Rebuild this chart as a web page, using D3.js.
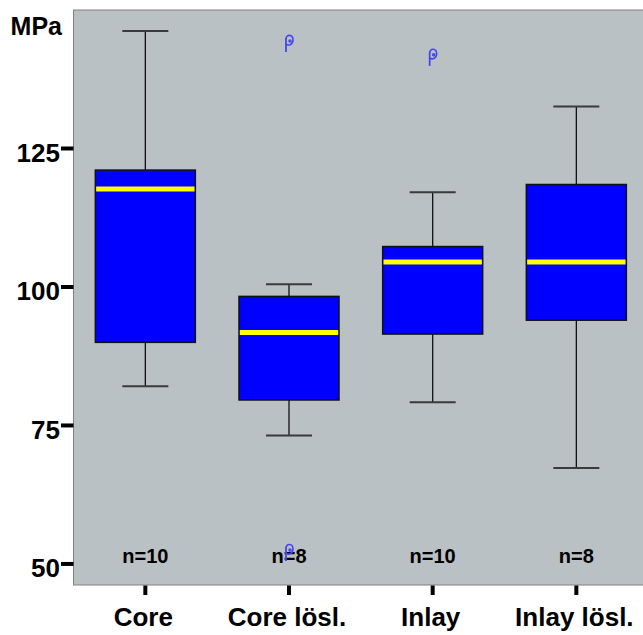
<!DOCTYPE html>
<html>
<head>
<meta charset="utf-8">
<script src="https://cdn.jsdelivr.net/npm/d3@7"></script>
<style>
  html, body { margin: 0; padding: 0; background: #ffffff; }
  svg { display: block; }
  text { font-family: "Liberation Sans", Arial, sans-serif; font-weight: bold; fill: #000; }
</style>
</head>
<body>
<svg id="chart" width="643" height="635"></svg>
<script>
// ---- data ----
const categories = ["Core", "Core lösl.", "Inlay", "Inlay lösl."];
const whiskerLow  = [82.1, 73.2, 79.2, 67.3];
const q1          = [90.0, 79.6, 91.5, 94.0];
const median      = [117.7, 91.8, 104.5, 104.5];
const q3          = [121.1, 98.3, 107.3, 118.5];
const whiskerHigh = [146.2, 100.5, 117.1, 132.6];
const counts      = ["n=10", "n=8", "n=10", "n=8"];
const outlierCat  = ["Core lösl.", "Core lösl.", "Inlay"];
const outlierVal  = [144.4, 52.5, 141.9];
const yTicks      = [50, 75, 100, 125];
const yLabel      = "MPa";

// ---- layout ----
const svg = d3.select("#chart");
const plotLeft = 73.5, plotTop = 10, plotBottom = 585;
const step = 143.67;
const x = d3.scaleBand().domain(categories).range([plotLeft, plotLeft + step * categories.length]).padding(0);
const y = d3.scaleLinear().domain([46.2, 150]).range([plotBottom, plotTop]);
const boxW = 100, capW = 46;

// plot background
svg.append("rect")
  .attr("x", plotLeft).attr("y", plotTop)
  .attr("width", 700).attr("height", plotBottom - plotTop)
  .attr("fill", "#bac1c4").attr("stroke", "#808080").attr("stroke-width", 1);

const rows = categories.map((c, i) => ({
  c, lo: whiskerLow[i], q1: q1[i], med: median[i], q3: q3[i], hi: whiskerHigh[i], n: counts[i]
}));
const cx = d => x(d.c) + x.bandwidth() / 2;

const g = svg.append("g");
// whiskers
g.selectAll(".wl").data(rows).join("line")
  .attr("x1", cx).attr("x2", cx)
  .attr("y1", d => y(d.q3)).attr("y2", d => y(d.hi))
  .attr("stroke", "#111").attr("stroke-width", 1.3);
g.selectAll(".wl2").data(rows).join("line")
  .attr("x1", cx).attr("x2", cx)
  .attr("y1", d => y(d.q1)).attr("y2", d => y(d.lo))
  .attr("stroke", "#111").attr("stroke-width", 1.3);
// caps
g.selectAll(".capH").data(rows).join("line")
  .attr("x1", d => cx(d) - capW / 2).attr("x2", d => cx(d) + capW / 2)
  .attr("y1", d => y(d.hi)).attr("y2", d => y(d.hi))
  .attr("stroke", "#3a3a3a").attr("stroke-width", 2);
g.selectAll(".capL").data(rows).join("line")
  .attr("x1", d => cx(d) - capW / 2).attr("x2", d => cx(d) + capW / 2)
  .attr("y1", d => y(d.lo)).attr("y2", d => y(d.lo))
  .attr("stroke", "#3a3a3a").attr("stroke-width", 2);
// boxes
g.selectAll(".box").data(rows).join("rect")
  .attr("x", d => cx(d) - boxW / 2).attr("width", boxW)
  .attr("y", d => y(d.q3)).attr("height", d => y(d.q1) - y(d.q3))
  .attr("fill", "#0000ff").attr("stroke", "#111").attr("stroke-width", 1.5);
// medians
g.selectAll(".med").data(rows).join("line")
  .attr("x1", d => cx(d) - boxW / 2 + 0.8).attr("x2", d => cx(d) + boxW / 2 - 0.8)
  .attr("y1", d => y(d.med)).attr("y2", d => y(d.med))
  .attr("stroke", "#ffff00").attr("stroke-width", 5);

// n labels
g.selectAll(".n").data(rows).join("text")
  .attr("x", cx).attr("y", 562.5)
  .attr("text-anchor", "middle").attr("font-size", 20)
  .text(d => d.n);

// outliers (SPSS-style glyph)
const outliers = outlierCat.map((c, i) => ({ c, v: outlierVal[i] }));
const og = g.selectAll(".out").data(outliers).join("g")
  .attr("transform", d => `translate(${x(d.c) + x.bandwidth() / 2},${y(d.v)})`);
og.append("path")
  .attr("d", "M-3,-3 L-3,11")
  .attr("stroke", "#4646ec").attr("stroke-width", 1.8).attr("fill", "none");
og.append("path")
  .attr("d", "M-3,-2 C-3,-7 4,-7 4,-1 C4,4 -1,5 -3,3")
  .attr("stroke", "#4646ec").attr("stroke-width", 1.6).attr("fill", "none");
og.append("circle")
  .attr("cx", 1).attr("cy", 0).attr("r", 1.8)
  .attr("fill", "#4a4aee");

// y axis ticks
const ya = svg.append("g");
ya.selectAll("line").data(yTicks).join("line")
  .attr("x1", 61).attr("x2", plotLeft)
  .attr("y1", d => y(d)).attr("y2", d => y(d))
  .attr("stroke", "#000").attr("stroke-width", 4);
ya.selectAll("text").data(yTicks).join("text")
  .attr("x", 60).attr("y", d => y(d) + 13.3)
  .attr("text-anchor", "end").attr("font-size", 26)
  .text(d => d);

// x axis ticks
const xa = svg.append("g");
xa.selectAll("line").data(categories).join("line")
  .attr("x1", d => x(d) + x.bandwidth() / 2).attr("x2", d => x(d) + x.bandwidth() / 2)
  .attr("y1", plotBottom + 0.5).attr("y2", 595)
  .attr("stroke", "#000").attr("stroke-width", 4);
xa.selectAll("text").data(categories).join("text")
  .attr("x", d => x(d) + x.bandwidth() / 2 - 2).attr("y", 626)
  .attr("text-anchor", "middle").attr("font-size", 26)
  .text(d => d);

// y label
svg.append("text").attr("x", 62).attr("y", 35)
  .attr("text-anchor", "end").attr("font-size", 25).text(yLabel);
</script>
</body>
</html>
